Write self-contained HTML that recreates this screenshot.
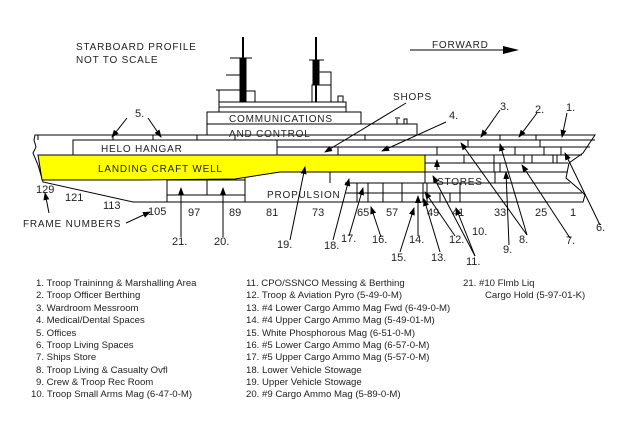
<!DOCTYPE html>
<html><head><meta charset="utf-8"><style>
html,body{margin:0;padding:0;background:#fff;}
svg{display:block;font-family:"Liberation Sans",Arial,sans-serif;}
.t{font-size:10px;fill:#222;letter-spacing:0.8px}
.n{font-size:11px;fill:#222}
.l{font-size:9.6px;fill:#222}
</style></head><body>
<svg width="640" height="423" viewBox="0 0 640 423" xmlns="http://www.w3.org/2000/svg">
<defs><marker id="a" markerWidth="8" markerHeight="6" refX="7" refY="3" orient="auto" markerUnits="userSpaceOnUse"><path d="M0,0 L8,3 L0,6 z" fill="#000"/></marker></defs>
<rect width="640" height="423" fill="#fff"/>
<text x="76" y="50" class="t">STARBOARD PROFILE</text>
<text x="76" y="63" class="t">NOT TO SCALE</text>
<text x="432" y="48" class="t">FORWARD</text>
<line x1="410" y1="50" x2="505" y2="50" stroke="#000"/>
<path d="M503,46 L519,50 L503,54 z" fill="#000"/>
<g stroke="#000" fill="none" stroke-width="1">
<line x1="243" y1="37" x2="243" y2="102" stroke-width="2"/>
<rect x="240" y="58" width="6" height="44" fill="#000"/>
<line x1="230" y1="58" x2="252" y2="58"/>
<line x1="226" y1="75" x2="240" y2="75"/>
<line x1="216" y1="90" x2="240" y2="90"/>
<line x1="219" y1="90" x2="219" y2="102"/>
<rect x="246" y="91" width="9" height="11"/>
<line x1="316" y1="37" x2="316" y2="102" stroke-width="2"/>
<rect x="313" y="60" width="6" height="25" fill="#000"/>
<line x1="309" y1="60" x2="324" y2="60"/>
<rect x="319" y="72" width="12" height="13"/>
<rect x="312" y="85" width="19" height="17"/>
<rect x="338" y="96" width="5" height="6"/>
<rect x="219" y="102" width="127" height="10"/>
<line x1="219" y1="107" x2="346" y2="107"/>
<rect x="207" y="112" width="154" height="12"/>
<rect x="207" y="124" width="210" height="11"/>
<path d="M397,124 v-5 M395,118 h5 M404,124 v-5 h3 v5"/>
<path d="M35,135 L595,135 L583,153 L569,163 L566,178 L580,190 L585,195 L583,202 L133,202 L43,182 L38,165 L33,153 L36,147 L34,140 z"/>
<line x1="38" y1="140" x2="38" y2="135"/>
<rect x="73" y="140" width="204" height="15"/>
<line x1="113" y1="135" x2="113" y2="140"/><line x1="153" y1="135" x2="153" y2="140"/><line x1="197" y1="135" x2="197" y2="140"/>
<line x1="277" y1="147" x2="425" y2="147"/>
<line x1="338" y1="147" x2="338" y2="155"/>
<line x1="235" y1="135" x2="235" y2="140"/><line x1="365" y1="135" x2="365" y2="140"/>
<line x1="277" y1="140" x2="595" y2="140"/>
<line x1="425" y1="147" x2="590" y2="147"/>
<line x1="425" y1="155" x2="582" y2="155"/>
<line x1="425" y1="163" x2="568" y2="163"/>
<line x1="330" y1="172" x2="567" y2="172"/>
<line x1="330" y1="172" x2="330" y2="183"/>
<line x1="345" y1="183" x2="570" y2="183"/>
<line x1="345" y1="193" x2="582" y2="193"/>
<line x1="425" y1="155" x2="425" y2="183"/>
<line x1="437" y1="147" x2="437" y2="155"/><line x1="464" y1="155" x2="464" y2="163"/>
<line x1="468" y1="140" x2="468" y2="147"/><line x1="500" y1="135" x2="500" y2="140"/>
<line x1="515" y1="147" x2="515" y2="155"/><line x1="494" y1="155" x2="494" y2="172"/>
<line x1="524" y1="155" x2="524" y2="163"/><line x1="532" y1="155" x2="532" y2="163"/>
<line x1="536" y1="135" x2="536" y2="140"/><line x1="540" y1="140" x2="540" y2="147"/>
<line x1="553" y1="155" x2="553" y2="163"/><line x1="544" y1="147" x2="544" y2="155"/>
<line x1="561" y1="147" x2="561" y2="155"/><line x1="557" y1="155" x2="557" y2="163"/>
<line x1="500" y1="163" x2="500" y2="172"/>
<line x1="495" y1="172" x2="495" y2="183"/>
<line x1="368" y1="183" x2="368" y2="202"/><line x1="383" y1="183" x2="383" y2="202"/>
<line x1="402" y1="183" x2="402" y2="202"/><line x1="423" y1="183" x2="423" y2="202"/>
<line x1="427" y1="183" x2="427" y2="202"/><line x1="440" y1="193" x2="440" y2="202"/>
<line x1="450" y1="193" x2="450" y2="202"/><line x1="460" y1="183" x2="460" y2="202"/>
<line x1="357" y1="183" x2="357" y2="202"/>
<rect x="167" y="180" width="78" height="15"/>
<line x1="207" y1="180" x2="207" y2="195"/>
<line x1="245" y1="172" x2="245" y2="202"/>
<line x1="167" y1="195" x2="167" y2="202"/>
</g>
<path d="M38,155 L425,155 L425,172 L280,172 L235,179 L140,180 L42,180 z" fill="#ffff00" stroke="#000"/>
<text x="229" y="122" class="t" font-size="10.5">COMMUNICATIONS</text>
<text x="229" y="137" class="t" font-size="10.5">AND CONTROL</text>
<text x="101" y="152" class="t" font-size="10.5">HELO HANGAR</text>
<text x="98" y="172" class="t" font-size="11">LANDING CRAFT WELL</text>
<text x="267" y="198" class="t" font-size="10.5">PROPULSION</text>
<text x="437" y="185" class="t" font-size="10.5">STORES</text>
<text x="393" y="100" class="t" font-size="10.5">SHOPS</text>
<g class="n">
<text x="36" y="193">129</text><text x="65" y="201">121</text><text x="103" y="209">113</text><text x="148" y="215">105</text>
<text x="188" y="216">97</text><text x="229" y="216">89</text><text x="266" y="216">81</text><text x="312" y="216">73</text>
<text x="357" y="216">65</text><text x="386" y="216">57</text><text x="427" y="216">49</text><text x="452" y="216">41</text>
<text x="494" y="216">33</text><text x="535" y="216">25</text><text x="570" y="216">1</text>
<text x="23" y="227" class="t">FRAME NUMBERS</text>
<text x="135" y="117">5.</text><text x="449" y="119">4.</text><text x="500" y="110">3.</text><text x="535" y="113">2.</text><text x="566" y="111">1.</text>
<text x="172" y="245">21.</text><text x="214" y="245">20.</text><text x="277" y="248">19.</text><text x="324" y="249">18.</text>
<text x="341" y="242">17.</text><text x="372" y="243">16.</text><text x="391" y="261">15.</text><text x="409" y="243">14.</text>
<text x="431" y="261">13.</text><text x="449" y="243">12.</text><text x="466" y="265">11.</text><text x="472" y="235">10.</text>
<text x="503" y="253">9.</text><text x="519" y="243">8.</text><text x="566" y="244">7.</text><text x="596" y="231">6.</text>
</g>
<g stroke="#000" stroke-width="1" marker-end="url(#a)">
<line x1="49" y1="213" x2="45" y2="193"/><line x1="126" y1="223" x2="150" y2="212"/>
<line x1="127" y1="118" x2="112" y2="137"/><line x1="148" y1="118" x2="161" y2="137"/>
<line x1="406" y1="103" x2="325" y2="152"/><line x1="446" y1="122" x2="382" y2="151"/>
<line x1="500" y1="110" x2="481" y2="137"/><line x1="537" y1="113" x2="519" y2="137"/><line x1="567" y1="113" x2="562" y2="137"/>
<line x1="181" y1="237" x2="181" y2="188"/><line x1="223" y1="237" x2="223" y2="188"/>
<line x1="290" y1="240" x2="305" y2="167"/><line x1="333" y1="240" x2="349" y2="179"/>
<line x1="349" y1="236" x2="363" y2="188"/><line x1="381" y1="237" x2="371" y2="207"/>
<line x1="400" y1="252" x2="414" y2="208"/><line x1="418" y1="236" x2="418" y2="196"/>
<line x1="440" y1="252" x2="424" y2="199"/><line x1="455" y1="236" x2="425" y2="192"/>
<line x1="475" y1="256" x2="433" y2="176"/><line x1="475" y1="256" x2="456" y2="208"/>
<line x1="509" y1="245" x2="506" y2="172"/><line x1="527" y1="235" x2="461" y2="143"/><line x1="527" y1="235" x2="500" y2="144"/>
<line x1="570" y1="238" x2="522" y2="165"/><line x1="600" y1="225" x2="565" y2="153"/>
<line x1="437" y1="170" x2="437" y2="160"/>
</g>
<g class="l">
<text x="36" y="286">1.  Troop Traininng &amp; Marshalling Area</text>
<text x="36" y="298">2.  Troop Officer Berthing</text>
<text x="36" y="311">3.  Wardroom Messroom</text>
<text x="36" y="323">4.  Medical/Dental Spaces</text>
<text x="36" y="336">5.  Offices</text>
<text x="36" y="348">6.  Troop Living Spaces</text>
<text x="36" y="360">7.  Ships Store</text>
<text x="36" y="373">8.  Troop Living &amp; Casualty Ovfl</text>
<text x="36" y="385">9.  Crew &amp; Troop Rec Room</text>
<text x="31" y="397">10. Troop Small Arms Mag (6-47-0-M)</text>
<text x="246" y="286">11.  CPO/SSNCO Messing &amp; Berthing</text>
<text x="246" y="298">12.  Troop &amp; Aviation Pyro (5-49-0-M)</text>
<text x="246" y="311">13.  #4 Lower Cargo Ammo Mag Fwd (6-49-0-M)</text>
<text x="246" y="323">14.  #4 Upper Cargo Ammo Mag (5-49-01-M)</text>
<text x="246" y="336">15.  White Phosphorous Mag (6-51-0-M)</text>
<text x="246" y="348">16.  #5 Lower Cargo Ammo Mag (6-57-0-M)</text>
<text x="246" y="360">17.  #5 Upper Cargo Ammo Mag (5-57-0-M)</text>
<text x="246" y="373">18.  Lower Vehicle Stowage</text>
<text x="246" y="385">19.  Upper Vehicle Stowage</text>
<text x="246" y="397">20.  #9 Cargo Ammo Mag (5-89-0-M)</text>
<text x="463" y="286">21.  #10 Flmb Liq</text>
<text x="485" y="298">Cargo Hold (5-97-01-K)</text>
</g>
</svg>
</body></html>
